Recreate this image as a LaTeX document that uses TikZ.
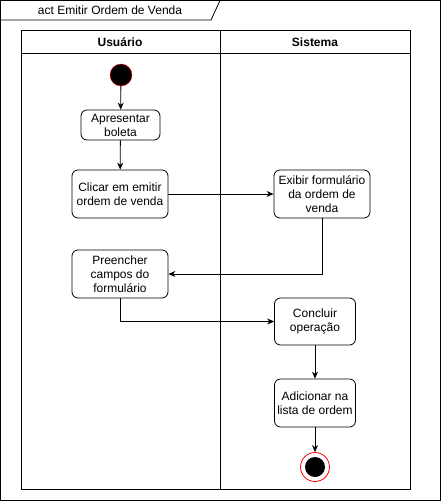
\documentclass[tikz,border=0pt]{standalone}
\usepackage{fontspec}
\setmainfont{Liberation Sans}
\usetikzlibrary{positioning,arrows.meta}
\tikzset{
  x=1pt, y=-1pt, >={Stealth[length=7pt,width=6pt]},
  every node/.style={font=\fontsize{12}{14}\selectfont},
  action/.style={draw, thick, rounded corners=6pt, align=center, inner sep=0pt},
  lane/.style={font=\fontsize{12}{14}\selectfont\bfseries},
  flow/.style={->, thick}
  }
\begin{document}
\begin{tikzpicture}

    \useasboundingbox (0,0) rectangle (441,501);
    % frame
    \draw[thick] (0.5,0.5) rectangle (440.5,500.5);
    \draw[thick] (0.5,20) -- (211,20) -- (220,0.5);
    \node (title) at (110,10) {act Emitir Ordem de Venda};
    % swimlanes
    \draw[thick] (21,30) rectangle (410,489);
    \draw[thick] (21,53) -- (410,53);
    \draw[thick] (220,30) -- (220,489);
    \node [lane] (user) at (120,42) {Usuário};
    \node [lane] (sys) at (315,42) {Sistema};

    \node [circle, fill=black, draw=red, minimum size=22pt, inner sep=0pt] (start) at (121,75) {};
    \node [action, minimum width=79pt, minimum height=30pt] (show) at (120.5,125) {Apresentar\\boleta};
    \node [action, minimum width=96pt, minimum height=48pt] (click) at (120,194) {Clicar em emitir\\ordem de venda};
    \node [action, minimum width=96pt, minimum height=48pt] (form) at (322,194) {Exibir formulário\\da ordem de\\venda};
    \node [action, minimum width=96pt, minimum height=48pt] (fill) at (120,274) {Preencher\\campos do\\formulário};
    \node [action, minimum width=81pt, minimum height=47pt] (done) at (315,321.5) {Concluir\\operação};
    \node [action, minimum width=81pt, minimum height=48pt] (add) at (315,403) {Adicionar na\\lista de ordem};
    \node [circle, draw=red, thick, minimum size=29pt, inner sep=0pt] (end) at (315,467) {};
    \node [circle, fill=black, minimum size=20pt, inner sep=0pt] at (end) {};

    \draw[flow] (start) -- (show);
    \draw[flow] (show) -- (click);
    \draw[flow] (click) -- (form);
    \draw[flow] (form.south) |- (fill.east);
    \draw[flow] (fill.south) |- (done.west);
    \draw[flow] (done) -- (add);
    \draw[flow] (add) -- (end);

\end{tikzpicture}
\end{document}
